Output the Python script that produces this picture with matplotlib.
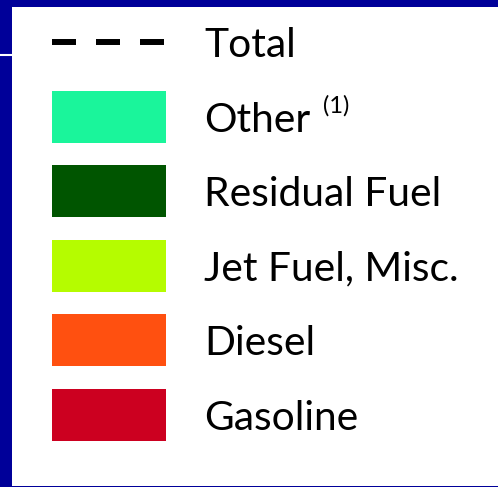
import matplotlib
matplotlib.use('Agg')
import matplotlib.pyplot as plt
from matplotlib.patches import Rectangle

# legend entries, top to bottom
labels = ['Total', 'Other', 'Residual Fuel', 'Jet Fuel, Misc.', 'Diesel', 'Gasoline']
colors = ['#000000', '#1AF59B', '#005500', '#B5FC00', '#FF5010', '#CC0020']
notes = ['', '(1)', '', '', '', '']

blue = '#000099'
plt.rcParams['lines.scale_dashes'] = False

fig = plt.figure(figsize=(4.98, 4.87), dpi=100)
fig.patch.set_facecolor(blue)
ax = fig.add_axes([0, 0, 1, 1])
ax.set_xlim(0, 498)
ax.set_ylim(487, 0)
ax.axis('off')

# white panel and the little white rule on the left band
ax.add_patch(Rectangle((12, 7), 486, 479, color='white', lw=0))
ax.plot([0, 12], [55, 55], color='white', lw=1.5, solid_capstyle='butt')

row0 = 42
step = 74.6
for i, (lab, col, note) in enumerate(zip(labels, colors, notes)):
    yc = row0 + i * step
    if lab == 'Total':
        ax.plot([52, 164], [yc, yc], color=col, lw=4.3, ls=(0, (17.28, 14.4)),
                dash_capstyle='butt')
    else:
        ax.add_patch(Rectangle((52, yc - 26), 114, 52, color=col, lw=0))
    ax.text(204, yc + 15, lab, fontsize=29.3, family='Lato',
            va='baseline', ha='left', color='black')
    if note:
        ax.text(323, yc - 4, note, fontsize=17, family='Lato',
                va='baseline', ha='left', color='black')

fig.savefig('out.png', dpi=100, facecolor=fig.get_facecolor())
